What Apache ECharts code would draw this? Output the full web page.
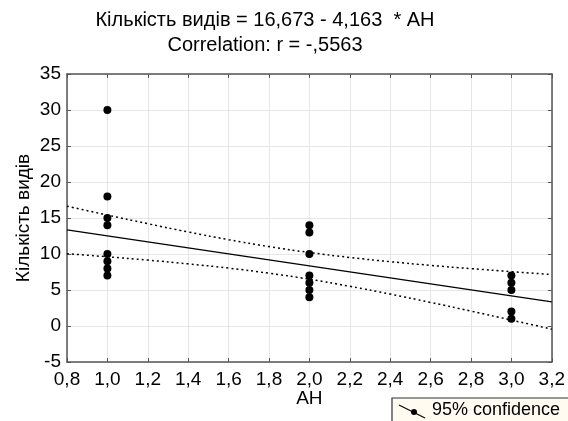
<!DOCTYPE html>
<html>
<head>
<meta charset="utf-8">
<script src="https://cdn.jsdelivr.net/npm/echarts@6/dist/echarts.min.js"></script>
<style>
html,body{margin:0;padding:0;background:#fff;}
#c{width:568px;height:421px;}
</style>
</head>
<body>
<div id="c"></div>
<script>
// Scatter data (AH, Кількість видів)
var pointsX = [1,1,1,1,1,1,1,1, 2,2,2,2,2,2,2, 3,3,3,3,3];
var pointsY = [30,18,15,14,10,9,8,7, 14,13,10,7,6,5,4, 7,6,5,2,1];
// Regression coefficients (from the title)
var intercept = 16.673;
var slope = -4.163;
// 95% confidence band
var bandX = [0.8,1.0,1.2,1.4,1.6,1.8,2.0,2.2,2.4,2.6,2.8,3.0,3.2];
var bandUpper = [16.64,15.41,14.21,13.06,11.99,11.03,10.21,9.52,8.93,8.42,7.97,7.55,7.15];
var bandLower = [10.04,9.61,9.15,8.63,8.04,7.33,6.49,5.51,4.43,3.27,2.07,0.82,-0.44];
var xRange = [0.8, 3.2];
var titleLine1 = 'Кількість видів = 16,673 - 4,163  * AH';
var titleLine2 = 'Correlation: r = -,5563';

var FONT = 'Liberation Sans, Arial, sans-serif';
var chart = echarts.init(document.getElementById('c'), null, {renderer:'canvas'});

function zip(a,b){return a.map(function(v,i){return [v,b[i]];});}
var regLine = xRange.map(function(x){return [x, intercept + slope*x];});

var axisLineStyle = {show:true, onZero:false, lineStyle:{color:'#555', width:1.5}};
var tickStyle = {show:true, inside:true, length:4, lineStyle:{color:'#555'}};
var gridLine = {show:true, lineStyle:{color:'#e6e6e6', width:1, type:'solid'}};

chart.setOption({
  animation:false,
  backgroundColor:'#fff',
  grid:{left:67, top:74, width:486, height:288},
  xAxis:[
    {type:'value', min:0.8, max:3.2, interval:0.2, position:'bottom',
     name:'AH', nameLocation:'middle', nameGap:27, nameMoveOverlap:false,
     nameTextStyle:{fontFamily:FONT, fontSize:19, color:'#000'},
     axisLine:axisLineStyle, axisTick:tickStyle,
     axisLabel:{fontFamily:FONT, fontSize:19, color:'#000', margin:8,
       formatter:function(v){return v.toFixed(1).replace('.',',');}},
     splitLine:gridLine},
    {type:'value', min:0.8, max:3.2, interval:0.2, position:'top',
     axisLine:axisLineStyle, axisTick:tickStyle,
     axisLabel:{show:false}, splitLine:{show:false}}
  ],
  yAxis:[
    {type:'value', min:-5, max:35, interval:5, position:'left',
     name:'Кількість видів', nameLocation:'middle', nameGap:34, nameRotate:90, nameMoveOverlap:false,
     nameTextStyle:{fontFamily:FONT, fontSize:19, color:'#000'},
     axisLine:axisLineStyle, axisTick:tickStyle,
     axisLabel:{fontFamily:FONT, fontSize:19, color:'#000', margin:6},
     splitLine:gridLine},
    {type:'value', min:-5, max:35, interval:5, position:'right',
     axisLine:axisLineStyle, axisTick:tickStyle,
     axisLabel:{show:false}, splitLine:{show:false}}
  ],
  series:[
    {type:'line', name:'upper', data:zip(bandX,bandUpper), smooth:true, symbol:'none',
     lineStyle:{color:'#000', width:1.5, type:[2,3]}, z:3},
    {type:'line', name:'lower', data:zip(bandX,bandLower), smooth:true, symbol:'none',
     lineStyle:{color:'#000', width:1.5, type:[2,3]}, z:3},
    {type:'line', name:'fit', data:regLine, symbol:'none',
     lineStyle:{color:'#000', width:1.3}, z:4},
    {type:'scatter', name:'points', data:zip(pointsX,pointsY), symbol:'circle', symbolSize:8,
     itemStyle:{color:'#000', opacity:1}, z:5}
  ],
  graphic:[
    {type:'text', x:265, y:10, style:{text:titleLine1, font:'20px Liberation Sans, Arial, sans-serif', fill:'#000', textAlign:'center'}},
    {type:'text', x:265, y:35, style:{text:titleLine2, font:'20px Liberation Sans, Arial, sans-serif', fill:'#000', textAlign:'center'}},
    {type:'rect', shape:{x:392, y:398, width:180, height:30},
     style:{fill:'#fffbf0', stroke:'#333', lineWidth:1.2}},
    {type:'line', shape:{x1:399, y1:405, x2:425, y2:418}, style:{stroke:'#000', lineWidth:1.2}},
    {type:'circle', shape:{cx:414, cy:412, r:3}, style:{fill:'#000'}},
    {type:'text', x:432, y:401, style:{text:'95% confidence', font:'18px Liberation Sans, Arial, sans-serif', fill:'#000'}}
  ]
});
</script>
</body>
</html>
